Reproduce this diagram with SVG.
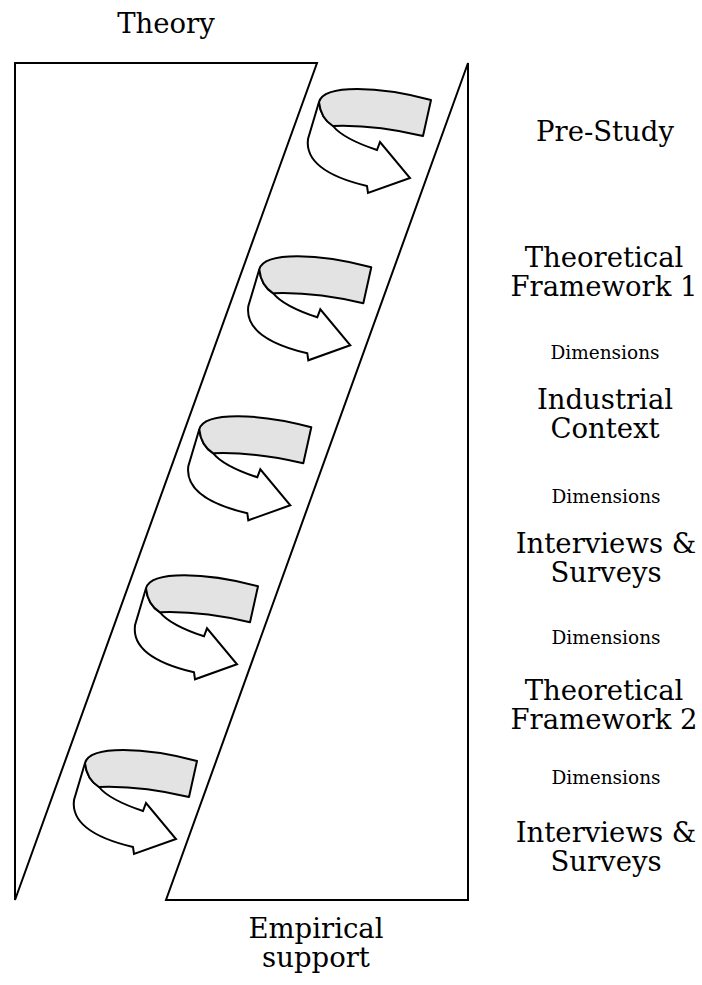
<svg xmlns="http://www.w3.org/2000/svg" xmlns:xlink="http://www.w3.org/1999/xlink" width="702" height="985" viewBox="0 0 702 985">
<style>
.frame{fill:none;stroke:#000;stroke-width:2;stroke-linejoin:miter}
.band{fill:#e3e3e3;stroke:#000;stroke-width:2;stroke-linejoin:round}
.tail{fill:#fff;stroke:#000;stroke-width:2;stroke-linejoin:miter}
.big{font-family:"DejaVu Serif","Liberation Serif",serif;font-size:27.5px;fill:#000;text-anchor:middle}
.small{font-family:"DejaVu Serif","Liberation Serif",serif;font-size:18.5px;fill:#000;text-anchor:middle}
</style>
<defs>
<g id="curl">
<path class="tail" d="M0,0 L-11,37 C-14,60 10,75 48,84 L49,91 L91,76 L61,40 L58,48 C40,42 22,34 14,24 C6,19 1,10 0,0 Z"/>
<path class="band" d="M0,0 C5,-18 60,-16 112,-2 L104,34 C70,26 40,23 14,24 C6,19 1,10 0,0 Z"/>
</g>
</defs>
<rect width="702" height="985" fill="#fff"/>
<g id="theory-region"><polygon class="frame" points="15,63 317,63 15,900"/></g>
<g id="empirical-region"><polygon class="frame" points="468,63 166,900 468,900"/></g>
<g id="connectors">
<g id="arrow1" transform="translate(319,102)"><use xlink:href="#curl"/></g>
<g id="arrow2" transform="translate(259.3,269.3)"><use xlink:href="#curl"/></g>
<g id="arrow3" transform="translate(199.3,429.3)"><use xlink:href="#curl"/></g>
<g id="arrow4" transform="translate(146,588.3)"><use xlink:href="#curl"/></g>
<g id="arrow5" transform="translate(85,763)"><use xlink:href="#curl"/></g>
</g>
<g id="label-theory"><text class="big" x="166" y="33">Theory</text></g>
<g id="label-empirical"><text class="big" x="316" y="938">Empirical</text><text class="big" x="316" y="967">support</text></g>
<g id="step-prestudy"><text class="big" x="605" y="141">Pre-Study</text></g>
<g id="step-tf1"><text class="big" x="604" y="267">Theoretical</text><text class="big" x="604" y="296">Framework 1</text></g>
<g id="dim1"><text class="small" x="605" y="359">Dimensions</text></g>
<g id="step-industrial"><text class="big" x="605" y="409">Industrial</text><text class="big" x="605" y="438">Context</text></g>
<g id="dim2"><text class="small" x="606" y="503">Dimensions</text></g>
<g id="step-interviews1"><text class="big" x="606" y="553">Interviews &amp;</text><text class="big" x="606" y="582">Surveys</text></g>
<g id="dim3"><text class="small" x="606" y="644">Dimensions</text></g>
<g id="step-tf2"><text class="big" x="604" y="700">Theoretical</text><text class="big" x="604" y="729">Framework 2</text></g>
<g id="dim4"><text class="small" x="606" y="784">Dimensions</text></g>
<g id="step-interviews2"><text class="big" x="606" y="842">Interviews &amp;</text><text class="big" x="606" y="871">Surveys</text></g>
</svg>
